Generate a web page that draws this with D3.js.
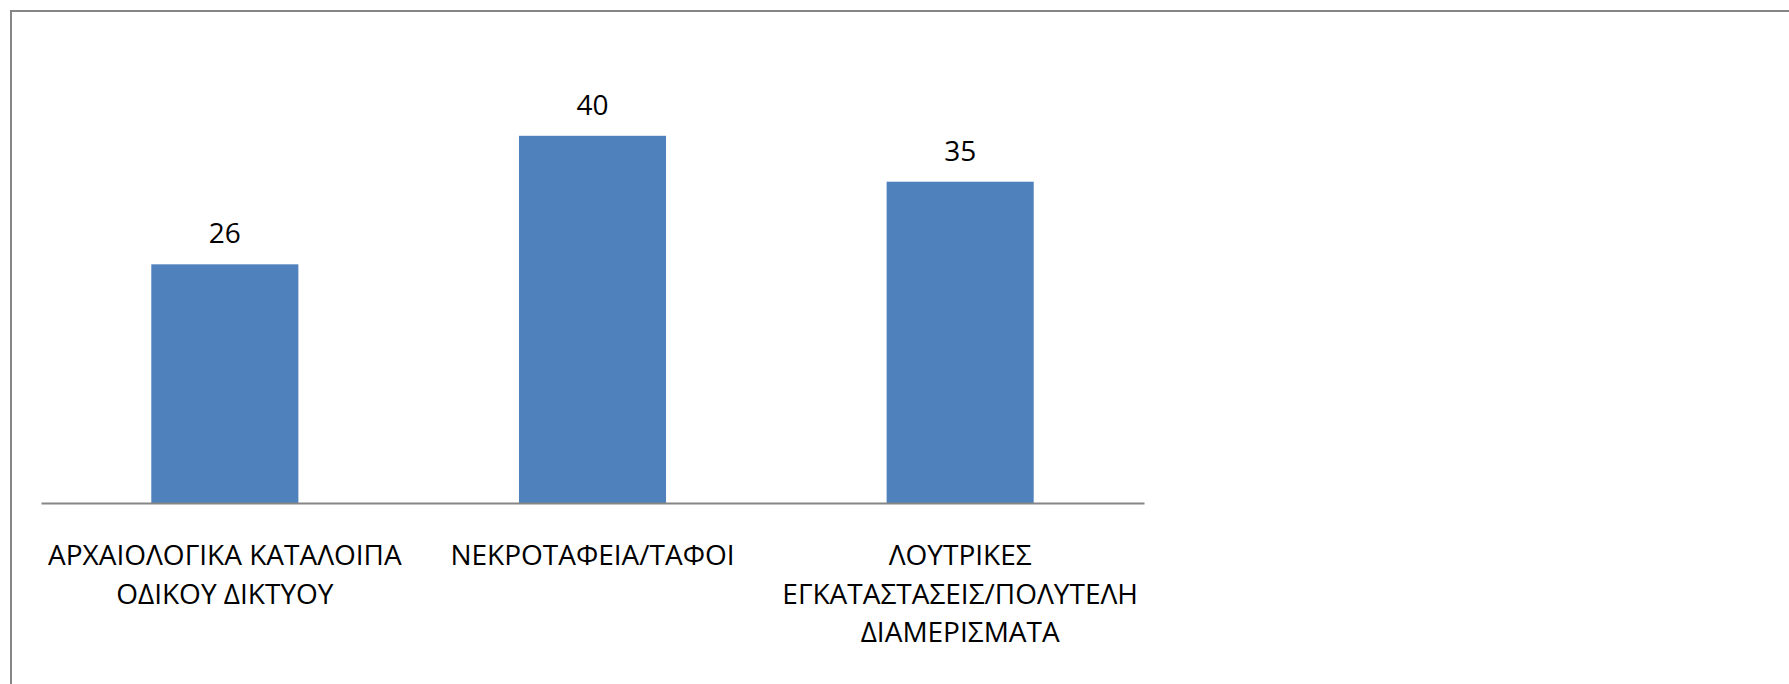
<!DOCTYPE html>
<html>
<head>
<meta charset="utf-8">
<script src="https://cdn.jsdelivr.net/npm/d3@7"></script>
<style>
  html, body { margin: 0; padding: 0; background: #fff; }
  svg { display: block; }
</style>
</head>
<body>
<svg id="chart" width="1789" height="684"></svg>
<script>
// ---- data ----
const categories = [
  "ΑΡΧΑΙΟΛΟΓΙΚΑ ΚΑΤΑΛΟΙΠΑ\nΟΔΙΚΟΥ ΔΙΚΤΥΟΥ",
  "ΝΕΚΡΟΤΑΦΕΙΑ/ΤΑΦΟΙ",
  "ΛΟΥΤΡΙΚΕΣ\nΕΓΚΑΤΑΣΤΑΣΕΙΣ/ΠΟΛΥΤΕΛΗ\nΔΙΑΜΕΡΙΣΜΑΤΑ"
];
const values = [26, 40, 35];
const yDomain = [0, 50];

// ---- layout ----
const W = 1789, H = 684;
const plot = { left: 41, right: 1144, top: 44, bottom: 503 };
const font = "'Open Sans', 'Noto Sans', sans-serif";
const fontSize = 28;

const svg = d3.select("#chart");

// outer chart border (extends beyond viewport right/bottom)
svg.append("rect")
  .attr("x", 11).attr("y", 11)
  .attr("width", W + 20).attr("height", H + 20)
  .attr("fill", "#fff")
  .attr("stroke", "#868686")
  .attr("stroke-width", 2);

const x = d3.scaleBand()
  .domain(categories)
  .range([plot.left, plot.right])
  .paddingInner(0).paddingOuter(0);

const y = d3.scaleLinear()
  .domain(yDomain)
  .range([plot.bottom, plot.top]);

const barW = x.bandwidth() * 0.4; // gap width 150%

const data = categories.map((c, i) => ({ c, v: values[i] }));

// bars
svg.append("g").selectAll("rect")
  .data(data).join("rect")
  .attr("x", d => x(d.c) + (x.bandwidth() - barW) / 2)
  .attr("y", d => y(d.v))
  .attr("width", barW)
  .attr("height", d => y(0) - y(d.v))
  .attr("fill", "#4F81BD");

// baseline (category axis)
const xAxis = d3.axisBottom(x).tickSize(0).tickFormat("");
const ax = svg.append("g")
  .attr("transform", `translate(0,${y(0)})`)
  .call(xAxis);
ax.select(".domain").attr("stroke", "#868686").attr("stroke-width", 2);

// value labels
svg.append("g").selectAll("text")
  .data(data).join("text")
  .attr("x", d => x(d.c) + x.bandwidth() / 2)
  .attr("y", d => y(d.v) - 21)
  .attr("text-anchor", "middle")
  .attr("font-family", font)
  .attr("font-size", fontSize)
  .attr("fill", "#000")
  .text(d => d.v);

// category labels
const lineH = 38.5;
const firstBaseline = 565;
const lab = svg.append("g").selectAll("text")
  .data(data).join("text")
  .attr("text-anchor", "middle")
  .attr("font-family", font)
  .attr("font-size", fontSize)
  .attr("fill", "#000");
lab.each(function(d) {
  const t = d3.select(this);
  d.c.split("\n").forEach((line, i) => {
    t.append("tspan")
      .attr("x", x(d.c) + x.bandwidth() / 2)
      .attr("y", firstBaseline + i * lineH)
      .text(line);
  });
});
</script>
</body>
</html>
